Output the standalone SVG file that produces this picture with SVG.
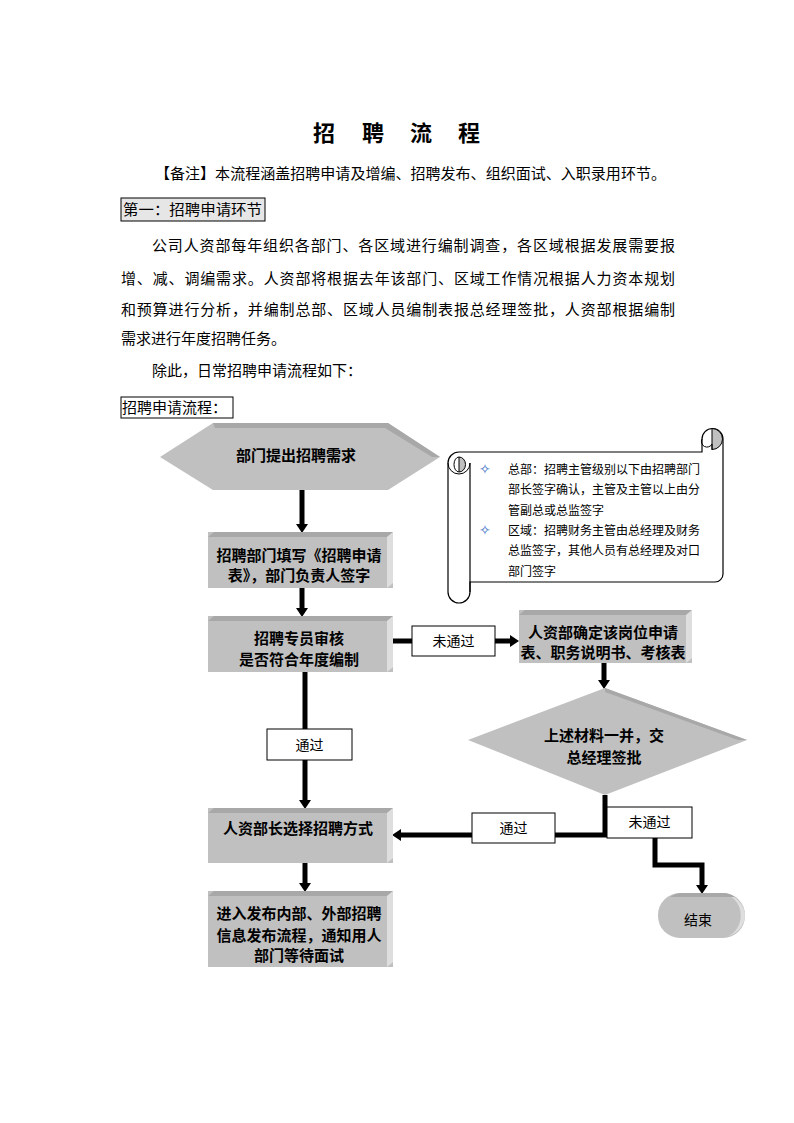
<svg xmlns="http://www.w3.org/2000/svg" width="794" height="1123" viewBox="0 0 794 1123">
<style>
.t{font-family:"Noto Sans CJK SC","Liberation Sans",sans-serif;fill:#000}
.b{font-weight:bold}
.nt{font-family:"Noto Sans CJK SC","Liberation Sans",sans-serif;font-weight:bold;font-size:15px;text-anchor:middle;fill:#000}
.lb{font-family:"Noto Sans CJK SC","Liberation Sans",sans-serif;font-size:14px;text-anchor:middle;fill:#000}
.face{fill:#c0c0c0}
.top{fill:#a8a8a8}
.side{fill:#dedede}
.lbox{fill:#fff;stroke:#000;stroke-width:1}
.con{fill:none;stroke:#000;stroke-width:5;stroke-linejoin:miter}
.scr{fill:#fff;stroke:#000;stroke-width:1.2}
.sc{font-family:"Noto Sans CJK SC","Liberation Sans",sans-serif;font-size:12px;fill:#000}
.bul{font-family:"DejaVu Sans",sans-serif;font-size:14px;fill:#3a6fc4}
</style>
<defs>
<marker id="ah" markerUnits="userSpaceOnUse" markerWidth="9" markerHeight="12" refX="0" refY="6" orient="auto">
<path d="M0,0 L9,6 L0,12 z" fill="#000"/>
</marker>
</defs>
<rect width="794" height="1123" fill="#fff"/>

<g id="header">
<text class="t b" font-size="22" x="313 340 362 388 410 436 458" y="141" xml:space="preserve">招 聘 流 程</text>
<text class="t" font-size="15" x="155" y="178.5" textLength="511" lengthAdjust="spacingAndGlyphs">【备注】本流程涵盖招聘申请及增编、招聘发布、组织面试、入职录用环节。</text>
<rect x="121" y="198" width="144" height="23" fill="#e6e6e6" stroke="#000" stroke-width="1"/>
<text class="t" font-size="15" x="123" y="214.5" textLength="139" lengthAdjust="spacingAndGlyphs">第一：招聘申请环节</text>
<text class="t" font-size="15" x="152" y="250.5" textLength="523" lengthAdjust="spacing">公司人资部每年组织各部门、各区域进行编制调查，各区域根据发展需要报</text>
<text class="t" font-size="15" x="121" y="283.5" textLength="554" lengthAdjust="spacing">增、减、调编需求。人资部将根据去年该部门、区域工作情况根据人力资本规划</text>
<text class="t" font-size="15" x="121" y="314.5" textLength="554" lengthAdjust="spacing">和预算进行分析，并编制总部、区域人员编制表报总经理签批，人资部根据编制</text>
<text class="t" font-size="15" x="121" y="344">需求进行年度招聘任务。</text>
<text class="t" font-size="15" x="152" y="375.5">除此，日常招聘申请流程如下：</text>
<rect x="121" y="397" width="112" height="21" fill="#fff" stroke="#000" stroke-width="1"/>
<text class="t" font-size="15" x="122" y="413">招聘申请流程：</text>
</g>

<g id="connectors">
<path class="con" d="M302,490 V524" marker-end="url(#ah)"/>
<path class="con" d="M302,588 V608" marker-end="url(#ah)"/>
<path class="con" d="M393,641 H510" marker-end="url(#ah)"/>
<path class="con" d="M604,663 V680" marker-end="url(#ah)"/>
<path class="con" d="M305,672 V800" marker-end="url(#ah)"/>
<path class="con" d="M605,795 V835 H401" marker-end="url(#ah)"/>
<path class="con" d="M655,838 V865 H702 V885" marker-end="url(#ah)"/>
<path class="con" d="M305,863 V883" marker-end="url(#ah)"/>
<rect class="lbox" x="412" y="626" width="83" height="30"/>
<text class="lb" x="453.5" y="646">未通过</text>
<rect class="lbox" x="267" y="729" width="85" height="31"/>
<text class="lb" x="309.5" y="749.5">通过</text>
<rect class="lbox" x="472" y="813" width="83" height="30"/>
<text class="lb" x="513.5" y="833">通过</text>
<rect class="lbox" x="607" y="807" width="85" height="31"/>
<text class="lb" x="649.5" y="827">未通过</text>
</g>

<g id="n-start">
<polygon class="face" points="160,457 213,423 388,423 440,457 388,490 213,490"/>
<polygon class="top" points="213,423 388,423 440,457 432,457 385,428 215,428"/>
<text class="nt" x="296" y="460.5">部门提出招聘需求</text>
</g>

<g id="n-fill">
<rect class="face" x="208" y="532" width="185" height="56"/>
<polygon class="top" points="208,537 214,532 393,532 387,537"/>
<polygon class="side" points="387,537 393,532 393,583 387,588"/>
<text class="nt" x="299" y="560.5">招聘部门填写《招聘申请</text>
<text class="nt" x="299" y="581">表》，部门负责人签字</text>
</g>

<g id="n-review">
<rect class="face" x="208" y="616" width="185" height="56"/>
<polygon class="top" points="208,621 214,616 393,616 387,621"/>
<polygon class="side" points="387,621 393,616 393,667 387,672"/>
<text class="nt" x="299" y="643.5">招聘专员审核</text>
<text class="nt" x="299" y="664.5">是否符合年度编制</text>
</g>

<g id="n-hr-confirm">
<rect class="face" x="519" y="610" width="173" height="53"/>
<polygon class="top" points="519,615 525,610 692,610 686,615"/>
<polygon class="side" points="686,615 692,610 692,658 686,663"/>
<text class="nt" x="603" y="637.5">人资部确定该岗位申请</text>
<text class="nt" x="603" y="657.5">表、职务说明书、考核表</text>
</g>

<g id="n-approve">
<polygon class="face" points="468,740 605,688 747,740 605,795"/>
<polygon class="top" points="605,688 747,740 738,740 605,692"/>
<text class="nt" x="604" y="740.5">上述材料一并，交</text>
<text class="nt" x="604" y="762.5">总经理签批</text>
</g>

<g id="n-choose">
<rect class="face" x="208" y="808" width="185" height="55"/>
<polygon class="top" points="208,813 214,808 393,808 387,813"/>
<polygon class="side" points="387,813 393,808 393,858 387,863"/>
<text class="nt" x="298" y="833.5">人资部长选择招聘方式</text>
</g>

<g id="n-publish">
<rect class="face" x="208" y="891" width="185" height="76"/>
<polygon class="top" points="208,896 214,891 393,891 387,896"/>
<polygon class="side" points="387,896 393,891 393,962 387,967"/>
<text class="nt" x="299" y="918.5">进入发布内部、外部招聘</text>
<text class="nt" x="299" y="940.5">信息发布流程，通知用人</text>
<text class="nt" x="299" y="961">部门等待面试</text>
</g>

<g id="n-end">
<rect class="face" x="658" y="893" width="87" height="45" rx="22" ry="22"/>
<path class="side" d="M728,895 A22,22 0 0 1 745,915 A22,22 0 0 1 728,936 A20,22 0 0 0 728,895 z"/>
<path d="M680,893 H723 A22,22 0 0 1 735,897 H670 A22,22 0 0 1 680,893 z" fill="#a8a8a8"/>
<text class="lb" x="698" y="925">结束</text>
</g>

<g id="n-note">
<path class="scr" d="M459,452 H702 V439 A10.5,10.5 0 0 1 723,439 V574 A8,8 0 0 1 715,582 H470 V592 A11,11 0 0 1 448,592 V463 A11,11 0 0 1 459,452 z"/>
<path d="M712,428.5 A10.5,10.5 0 0 1 712,449.5 z" fill="#c0c0c0" stroke="#000" stroke-width="1"/>
<path d="M702,439 A5,5 0 0 0 712,444 V450" fill="none" stroke="#000" stroke-width="1"/>
<path d="M448,463 A11,11 0 0 0 470,463" fill="none" stroke="#000" stroke-width="1"/>
<path d="M459,457 A6.5,7.5 0 0 1 459,472 z" fill="#c0c0c0" stroke="#000" stroke-width="1"/>
<path d="M459,457 A5,7.5 0 0 0 459,472" fill="none" stroke="#000" stroke-width="1"/>
<line x1="470" y1="463" x2="470" y2="592" stroke="#000" stroke-width="1.2"/>
<text class="bul" x="479" y="473.5">✧</text>
<text class="sc" x="508" y="473.5">总部：招聘主管级别以下由招聘部门</text>
<text class="sc" x="508" y="494">部长签字确认，主管及主管以上由分</text>
<text class="sc" x="508" y="514.5">管副总或总监签字</text>
<text class="bul" x="479" y="535">✧</text>
<text class="sc" x="508" y="534.5">区域：招聘财务主管由总经理及财务</text>
<text class="sc" x="508" y="555">总监签字，其他人员有总经理及对口</text>
<text class="sc" x="508" y="575.5">部门签字</text>
</g>
</svg>
